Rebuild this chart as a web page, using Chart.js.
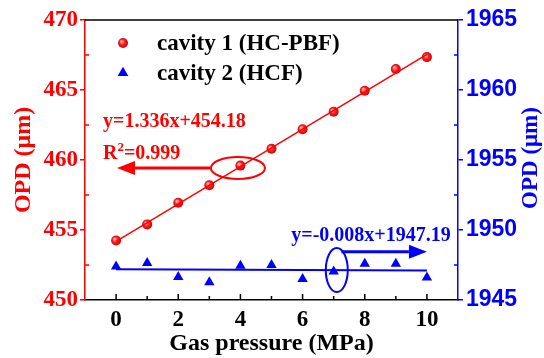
<!DOCTYPE html>
<html>
<head>
<meta charset="utf-8">
<script src="https://cdn.jsdelivr.net/npm/chart.js@4.4.1/dist/chart.umd.min.js"></script>
<style>
  html, body { margin: 0; padding: 0; background: #fff; }
  #wrap { width: 544px; height: 358px; }
</style>
</head>
<body>
<div id="wrap"><canvas id="opdChart" width="544" height="358"></canvas></div>
<script>
// Data
const pressure = [0, 1, 2, 3, 4, 5, 6, 7, 8, 9, 10];
const cavity1 = [454.25, 455.4, 456.95, 458.2, 459.6, 460.8, 462.2, 463.45, 464.95, 466.5, 467.35];
const cavity2 = [1947.4, 1947.64, 1946.64, 1946.26, 1947.45, 1947.5, 1946.5, 1947.04, 1947.59, 1947.59, 1946.61];

// Linear fits (end points)
const fitX = [0, 10];
const fit1 = [454.18, 467.54];
const fit2 = [1947.19, 1947.11];

// Tick labels
const xTicks = [0, 2, 4, 6, 8, 10];
const leftTicks = [450, 455, 460, 465, 470];
const rightTicks = [1945, 1950, 1955, 1960, 1965];

const label1 = 'cavity 1 (HC-PBF)';
const label2 = 'cavity 2 (HCF)';

const RED = '#ff0000';
const BLUE = '#0000ff';
const SERIF = '"Liberation Serif", "Times New Roman", serif';
const SANS = '"Liberation Sans", Arial, sans-serif';

const toPoints = (xs, ys) => xs.map((x, i) => ({ x: x, y: ys[i] }));

/**
 * Shaded ball gradient, centred on a pixel
 */
const ballGradient = (ctx, px, py) => {
    const g = ctx.createRadialGradient(px - 1.6, py - 1.6, 0.5, px, py, 5.5);
    g.addColorStop(0, '#ffb4b4');
    g.addColorStop(0.45, '#ff1e1e');
    g.addColorStop(1, '#c00000');
    return g;
};

const ballFill = (context) => {
    const chart = context.chart;
    const sx = chart.scales.x, sy = chart.scales.y;
    if (!context.parsed || !sx || !sy) return RED;
    const px = sx.getPixelForValue(context.parsed.x);
    const py = sy.getPixelForValue(context.parsed.y);
    if (!isFinite(px) || !isFinite(py)) return RED;
    return ballGradient(chart.ctx, px, py);
};

/**
 * Horizontal arrow with filled head
 */
const drawArrow = (ctx, x0, y0, x1, y1, color) => {
    const dir = x1 > x0 ? 1 : -1;
    const head = 18;
    ctx.strokeStyle = color;
    ctx.fillStyle = color;
    ctx.lineWidth = 3;
    ctx.beginPath();
    ctx.moveTo(x0, y0);
    ctx.lineTo(x1 - dir * head, y1);
    ctx.stroke();
    ctx.beginPath();
    ctx.moveTo(x1, y1);
    ctx.lineTo(x1 - dir * head, y1 - 7);
    ctx.lineTo(x1 - dir * head, y1 + 7);
    ctx.closePath();
    ctx.fill();
};

/**
 * Extra decoration: inside ticks, top border, right title, legend, annotations
 */
const decorPlugin = {
    id: 'decor',
    afterDraw(chart) {
        const { ctx, chartArea: a } = chart;
        const sx = chart.scales.x, sy = chart.scales.y, sy2 = chart.scales.y2;
        ctx.save();

        // top frame line
        ctx.strokeStyle = '#000';
        ctx.lineWidth = 1.5;
        ctx.beginPath();
        ctx.moveTo(a.left, a.top);
        ctx.lineTo(a.right, a.top);
        ctx.stroke();

        // x ticks pointing inward
        for (let v = 0; v <= 10; v++) {
            const px = sx.getPixelForValue(v);
            const len = v % 2 === 0 ? 6 : 4;
            ctx.beginPath();
            ctx.moveTo(px, a.bottom);
            ctx.lineTo(px, a.bottom - len);
            ctx.stroke();
        }

        // minor y ticks pointing inward
        ctx.strokeStyle = RED;
        for (let v = 452.5; v < 470; v += 5) {
            const py = sy.getPixelForValue(v);
            ctx.beginPath();
            ctx.moveTo(a.left, py);
            ctx.lineTo(a.left + 4, py);
            ctx.stroke();
        }
        ctx.strokeStyle = BLUE;
        for (let v = 1947.5; v < 1965; v += 5) {
            const py = sy2.getPixelForValue(v);
            ctx.beginPath();
            ctx.moveTo(a.right, py);
            ctx.lineTo(a.right - 4, py);
            ctx.stroke();
        }

        // right axis title (reads bottom to top)
        ctx.fillStyle = BLUE;
        ctx.font = 'bold 23px ' + SERIF;
        ctx.textAlign = 'center';
        ctx.textBaseline = 'middle';
        ctx.translate(531, (a.top + a.bottom) / 2 - 2);
        ctx.rotate(-Math.PI / 2);
        ctx.fillText('OPD (\u03bcm)', 0, 0);
        ctx.setTransform(1, 0, 0, 1, 0, 0);

        // legend
        const lx = a.left + 38, ly = a.top + 23;
        ctx.fillStyle = ballGradient(ctx, lx, ly);
        ctx.beginPath();
        ctx.arc(lx, ly, 5, 0, Math.PI * 2);
        ctx.fill();
        ctx.fillStyle = BLUE;
        const r = 6.2, ty = ly + 30;
        ctx.beginPath();
        ctx.moveTo(lx, ty - r);
        ctx.lineTo(lx + r * 0.866, ty + r / 2);
        ctx.lineTo(lx - r * 0.866, ty + r / 2);
        ctx.closePath();
        ctx.fill();
        ctx.fillStyle = '#000';
        ctx.textAlign = 'left';
        ctx.font = 'bold 23px ' + SERIF;
        ctx.fillText(label1, lx + 34, ly + 1);
        ctx.fillText(label2, lx + 34, ty + 1);

        // annotations for cavity 1
        ctx.fillStyle = RED;
        ctx.strokeStyle = RED;
        ctx.textBaseline = 'alphabetic';
        ctx.font = 'bold 20px ' + SERIF;
        const tx = sx.getPixelForValue(-0.42);
        ctx.fillText('y=1.336x+454.18', tx, sy.getPixelForValue(462.36));
        const rBase = sy.getPixelForValue(460.07);
        ctx.fillText('R', tx, rBase);
        const rw = ctx.measureText('R').width;
        ctx.font = 'bold 13px ' + SERIF;
        ctx.fillText('2', tx + rw, rBase - 8);
        const sw = ctx.measureText('2').width;
        ctx.font = 'bold 20px ' + SERIF;
        ctx.fillText('=0.999', tx + rw + sw, rBase);

        const ecx = sx.getPixelForValue(3.92), ecy = sy.getPixelForValue(459.43);
        ctx.lineWidth = 2;
        ctx.beginPath();
        ctx.ellipse(ecx, ecy, 27, 11, 0, 0, Math.PI * 2);
        ctx.stroke();
        drawArrow(ctx, ecx - 27, ecy, sx.getPixelForValue(0.03), ecy, RED);

        // annotations for cavity 2
        ctx.fillStyle = BLUE;
        ctx.strokeStyle = BLUE;
        ctx.textAlign = 'center';
        ctx.font = 'bold 20px ' + SERIF;
        ctx.fillText('y=-0.008x+1947.19', sx.getPixelForValue(8.2), sy2.getPixelForValue(1949.21));
        const bcx = sx.getPixelForValue(7.1), bcy = sy2.getPixelForValue(1947.14);
        ctx.lineWidth = 2;
        ctx.beginPath();
        ctx.ellipse(bcx, bcy, 11, 22, 0, 0, Math.PI * 2);
        ctx.stroke();
        const ay = sy2.getPixelForValue(1948.45);
        drawArrow(ctx, sx.getPixelForValue(7.25), ay, sx.getPixelForValue(10), ay, BLUE);

        ctx.restore();
    }
};

const setTicks = (values) => (scale) => {
    scale.ticks = values.map(v => ({ value: v }));
};

new Chart(document.getElementById('opdChart'), {
    type: 'scatter',
    data: {
        datasets: [
            {
                label: 'fit 1',
                data: toPoints(fitX, fit1),
                yAxisID: 'y',
                showLine: true,
                borderColor: RED,
                borderWidth: 1.5,
                pointRadius: 0
            },
            {
                label: 'fit 2',
                data: toPoints(fitX, fit2),
                yAxisID: 'y2',
                showLine: true,
                borderColor: BLUE,
                borderWidth: 2,
                pointRadius: 0
            },
            {
                label: label1,
                data: toPoints(pressure, cavity1),
                yAxisID: 'y',
                pointStyle: 'circle',
                pointRadius: 5,
                backgroundColor: ballFill,
                borderWidth: 0
            },
            {
                label: label2,
                data: toPoints(pressure, cavity2),
                yAxisID: 'y2',
                pointStyle: 'triangle',
                pointRadius: 6,
                backgroundColor: BLUE,
                borderWidth: 0
            }
        ]
    },
    options: {
        responsive: false,
        animation: false,
        layout: { padding: { top: 20, left: 0, right: 0, bottom: 0 } },
        plugins: {
            legend: { display: false },
            tooltip: { enabled: false }
        },
        scales: {
            x: {
                type: 'linear',
                min: -1,
                max: 11,
                afterBuildTicks: setTicks(xTicks),
                afterFit: (s) => { s.height = 58; },
                grid: { drawOnChartArea: false, drawTicks: false },
                border: { display: true, color: '#000', width: 1.5 },
                ticks: {
                    color: '#000',
                    padding: 6,
                    callback: (v) => String(v),
                    font: { family: SERIF, size: 23, weight: 'bold' }
                },
                title: {
                    display: true,
                    text: 'Gas pressure (MPa)',
                    color: '#000',
                    padding: { top: 0, bottom: 0 },
                    font: { family: SERIF, size: 24, weight: 'bold' }
                }
            },
            y: {
                position: 'left',
                min: 450,
                max: 470,
                afterBuildTicks: setTicks(leftTicks),
                afterFit: (s) => { s.width = 85; },
                grid: { drawOnChartArea: false, drawTicks: true, tickLength: 5, color: RED, lineWidth: 1.5 },
                border: { display: true, color: RED, width: 1.5 },
                ticks: {
                    color: RED,
                    padding: 2,
                    callback: (v) => String(v),
                    font: { family: SERIF, size: 23, weight: 'bold' }
                },
                title: {
                    display: true,
                    text: 'OPD (\u03bcm)',
                    color: RED,
                    padding: { top: 9, bottom: 0 },
                    font: { family: SERIF, size: 24, weight: 'bold' }
                }
            },
            y2: {
                position: 'right',
                min: 1945,
                max: 1965,
                afterBuildTicks: setTicks(rightTicks),
                afterFit: (s) => { s.width = 86; },
                grid: { drawOnChartArea: false, drawTicks: true, tickLength: 5, color: BLUE, lineWidth: 1.5 },
                border: { display: true, color: BLUE, width: 1.5 },
                ticks: {
                    color: BLUE,
                    padding: 3,
                    callback: (v) => String(v),
                    font: { family: SANS, size: 23, weight: 'bold' }
                }
            }
        }
    },
    plugins: [decorPlugin]
});
</script>
</body>
</html>
